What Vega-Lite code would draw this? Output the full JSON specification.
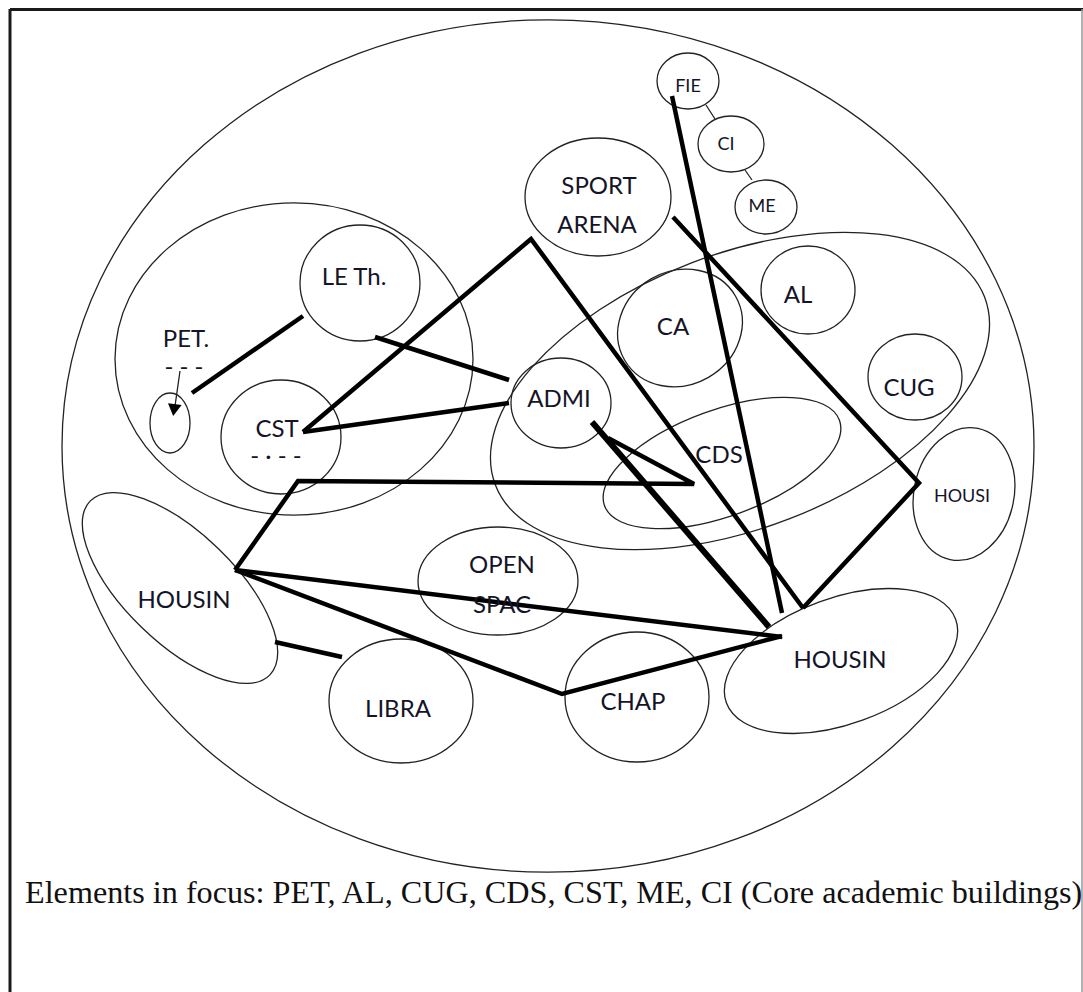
{
  "$schema": "https://vega.github.io/schema/vega-lite/v6.json",
  "width": 1083,
  "height": 992,
  "autosize": {"type": "none"},
  "padding": 0,
  "background": "white",
  "config": {"view": {"stroke": null}},
  "datasets": {
    "ellipses": [
      {"name": "Campus", "x": 548, "y": 446, "rx": 486, "ry": 426, "tilt": 0},
      {"name": "West cluster", "x": 294, "y": 359, "rx": 179, "ry": 156, "tilt": 0},
      {"name": "East cluster", "x": 740, "y": 391, "rx": 262, "ry": 137, "tilt": -21},
      {"name": "CDS zone", "x": 722, "y": 463, "rx": 125, "ry": 53, "tilt": -20},
      {"name": "LE Th.", "x": 360, "y": 283, "rx": 60, "ry": 58, "tilt": 0},
      {"name": "PET", "x": 170, "y": 423, "rx": 20, "ry": 30, "tilt": 0},
      {"name": "CST", "x": 281, "y": 437, "rx": 60, "ry": 57, "tilt": 0},
      {"name": "ADMI", "x": 561, "y": 403, "rx": 50, "ry": 45, "tilt": 0},
      {"name": "CA", "x": 680, "y": 328, "rx": 64, "ry": 57, "tilt": -30},
      {"name": "AL", "x": 808, "y": 290, "rx": 47, "ry": 44, "tilt": 0},
      {"name": "CUG", "x": 915, "y": 377, "rx": 47, "ry": 43, "tilt": 0},
      {"name": "SPORT ARENA", "x": 598, "y": 197, "rx": 73, "ry": 59, "tilt": 0},
      {"name": "FIE", "x": 688, "y": 81, "rx": 31, "ry": 28, "tilt": 0},
      {"name": "CI", "x": 731, "y": 144, "rx": 33, "ry": 28, "tilt": 0},
      {"name": "ME", "x": 766, "y": 207, "rx": 31, "ry": 27, "tilt": 0},
      {"name": "HOUSI", "x": 964, "y": 494, "rx": 50, "ry": 67, "tilt": 12},
      {"name": "HOUSIN W", "x": 180, "y": 588, "rx": 125, "ry": 55, "tilt": 44},
      {"name": "OPEN SPAC", "x": 498, "y": 581, "rx": 80, "ry": 54, "tilt": 0},
      {"name": "LIBRA", "x": 401, "y": 701, "rx": 72, "ry": 62, "tilt": 0},
      {"name": "CHAP", "x": 637, "y": 697, "rx": 72, "ry": 65, "tilt": 0},
      {"name": "HOUSIN E", "x": 841, "y": 661, "rx": 122, "ry": 63, "tilt": -20}
    ],
    "paths": [
      {"path": "PET-LE", "seq": 1, "x": 192, "y": 393},
      {"path": "PET-LE", "seq": 2, "x": 303, "y": 316},
      {"path": "LE-ADMI", "seq": 1, "x": 375, "y": 337},
      {"path": "LE-ADMI", "seq": 2, "x": 509, "y": 380},
      {"path": "CST-ADMI", "seq": 1, "x": 303, "y": 432},
      {"path": "CST-ADMI", "seq": 2, "x": 509, "y": 403},
      {"path": "CST-HOUSIN", "seq": 1, "x": 303, "y": 432},
      {"path": "CST-HOUSIN", "seq": 2, "x": 531, "y": 239},
      {"path": "CST-HOUSIN", "seq": 3, "x": 803, "y": 608},
      {"path": "FIE-HOUSIN", "seq": 1, "x": 672, "y": 96},
      {"path": "FIE-HOUSIN", "seq": 2, "x": 782, "y": 613},
      {"path": "SPORT-HOUSI", "seq": 1, "x": 673, "y": 217},
      {"path": "SPORT-HOUSI", "seq": 2, "x": 919, "y": 483},
      {"path": "SPORT-HOUSI", "seq": 3, "x": 803, "y": 608},
      {"path": "ADMI-CDS", "seq": 1, "x": 608, "y": 438},
      {"path": "ADMI-CDS", "seq": 2, "x": 694, "y": 484},
      {"path": "ADMI-CDS", "seq": 3, "x": 298, "y": 481},
      {"path": "ADMI-CDS", "seq": 4, "x": 235, "y": 570},
      {"path": "HOUSIN-HOUSIN", "seq": 1, "x": 235, "y": 570},
      {"path": "HOUSIN-HOUSIN", "seq": 2, "x": 782, "y": 637},
      {"path": "HOUSIN-CHAP", "seq": 1, "x": 235, "y": 570},
      {"path": "HOUSIN-CHAP", "seq": 2, "x": 562, "y": 694},
      {"path": "HOUSIN-CHAP", "seq": 3, "x": 782, "y": 636},
      {"path": "HOUSIN-LIBRA", "seq": 1, "x": 275, "y": 642},
      {"path": "HOUSIN-LIBRA", "seq": 2, "x": 342, "y": 657}
    ],
    "heavy": [
      {"path": "ADMI-HOUSIN", "seq": 1, "x": 592, "y": 422},
      {"path": "ADMI-HOUSIN", "seq": 2, "x": 769, "y": 627}
    ],
    "thin": [
      {"link": "FIE-CI", "x": 706, "y": 105, "x2": 715, "y2": 119},
      {"link": "CI-ME", "x": 745, "y": 170, "x2": 752, "y2": 180},
      {"link": "PET arrow", "x": 180, "y": 371, "x2": 175, "y2": 406}
    ],
    "arrowheads": [
      {"link": "PET arrow", "x": 174, "y": 410, "dir": 188}
    ],
    "frame": [
      {"side": "top", "x": 10, "y": 9.5, "x2": 1083, "y2": 9.5},
      {"side": "left", "x": 10, "y": 9, "x2": 10, "y2": 992}
    ],
    "frameRight": [
      {"side": "right", "x": 1082, "y": 9, "x2": 1082, "y2": 992}
    ],
    "labels": [
      {"label": "PET.", "x": 186, "y": 347},
      {"label": "LE Th.", "x": 354, "y": 285},
      {"label": "CST", "x": 277, "y": 437},
      {"label": "ADMI", "x": 559, "y": 407},
      {"label": "CDS", "x": 719, "y": 463},
      {"label": "CA", "x": 673, "y": 335},
      {"label": "AL", "x": 798, "y": 303},
      {"label": "CUG", "x": 909, "y": 396},
      {"label": "SPORT", "x": 599, "y": 194},
      {"label": "ARENA", "x": 597, "y": 233},
      {"label": "HOUSIN", "x": 184, "y": 608},
      {"label": "OPEN", "x": 502, "y": 573},
      {"label": "SPAC", "x": 502, "y": 613},
      {"label": "LIBRA", "x": 398, "y": 717},
      {"label": "CHAP", "x": 633, "y": 710},
      {"label": "HOUSIN", "x": 840, "y": 668},
      {"label": "- - -", "x": 184, "y": 375},
      {"label": "- · - -", "x": 276, "y": 464}
    ],
    "smallLabels": [
      {"label": "HOUSI", "x": 962, "y": 502},
      {"label": "ME", "x": 762, "y": 212},
      {"label": "CI", "x": 726, "y": 150},
      {"label": "FIE", "x": 688, "y": 92}
    ],
    "caption": [
      {"text": "Elements in focus: PET, AL, CUG, CDS, CST, ME, CI (Core academic buildings)", "x": 25, "y": 903}
    ]
  },
  "encoding": {
    "x": {"field": "x", "type": "quantitative", "axis": null, "scale": {"domain": [0, 1083], "nice": false, "zero": false}},
    "y": {"field": "y", "type": "quantitative", "axis": null, "scale": {"domain": [0, 992], "nice": false, "zero": false, "reverse": true}}
  },
  "layer": [
    {
      "data": {"name": "frame"},
      "mark": {"type": "rule", "stroke": "#1a1a1a", "strokeWidth": 3},
      "encoding": {"x2": {"field": "x2"}, "y2": {"field": "y2"}}
    },
    {
      "data": {"name": "frameRight"},
      "mark": {"type": "rule", "stroke": "#9a9a9a", "strokeWidth": 1.5},
      "encoding": {"x2": {"field": "x2"}, "y2": {"field": "y2"}}
    },
    {
      "data": {"name": "ellipses"},
      "mark": {"type": "point", "filled": false, "stroke": "#222222", "strokeWidth": 1.3, "opacity": 1, "fill": null},
      "encoding": {
        "shape": {
          "field": "name", "type": "nominal", "legend": null,
          "scale": {
            "domain": ["Campus", "West cluster", "East cluster", "CDS zone", "LE Th.", "PET", "CST", "ADMI", "CA", "AL", "CUG", "SPORT ARENA", "FIE", "CI", "ME", "HOUSI", "HOUSIN W", "OPEN SPAC", "LIBRA", "CHAP", "HOUSIN E"],
            "range": [
              "M-1,0C-1,-0.4844 -0.5523,-0.877 0,-0.877C0.5523,-0.877 1,-0.4844 1,0C1,0.4844 0.5523,0.877 0,0.877C-0.5523,0.877 -1,0.4844 -1,0Z",
              "M-1,0C-1,-0.4816 -0.5523,-0.872 0,-0.872C0.5523,-0.872 1,-0.4816 1,0C1,0.4816 0.5523,0.872 0,0.872C-0.5523,0.872 -1,0.4816 -1,0Z",
              "M-1,0C-1,-0.2888 -0.5523,-0.523 0,-0.523C0.5523,-0.523 1,-0.2888 1,0C1,0.2888 0.5523,0.523 0,0.523C-0.5523,0.523 -1,0.2888 -1,0Z",
              "M-1,0C-1,-0.2342 -0.5523,-0.424 0,-0.424C0.5523,-0.424 1,-0.2342 1,0C1,0.2342 0.5523,0.424 0,0.424C-0.5523,0.424 -1,0.2342 -1,0Z",
              "M-1,0C-1,-0.5341 -0.5523,-0.967 0,-0.967C0.5523,-0.967 1,-0.5341 1,0C1,0.5341 0.5523,0.967 0,0.967C-0.5523,0.967 -1,0.5341 -1,0Z",
              "M-1,0C-1,-0.8285 -0.5523,-1.5 0,-1.5C0.5523,-1.5 1,-0.8285 1,0C1,0.8285 0.5523,1.5 0,1.5C-0.5523,1.5 -1,0.8285 -1,0Z",
              "M-1,0C-1,-0.5247 -0.5523,-0.95 0,-0.95C0.5523,-0.95 1,-0.5247 1,0C1,0.5247 0.5523,0.95 0,0.95C-0.5523,0.95 -1,0.5247 -1,0Z",
              "M-1,0C-1,-0.4971 -0.5523,-0.9 0,-0.9C0.5523,-0.9 1,-0.4971 1,0C1,0.4971 0.5523,0.9 0,0.9C-0.5523,0.9 -1,0.4971 -1,0Z",
              "M-1,0C-1,-0.4915 -0.5523,-0.89 0,-0.89C0.5523,-0.89 1,-0.4915 1,0C1,0.4915 0.5523,0.89 0,0.89C-0.5523,0.89 -1,0.4915 -1,0Z",
              "M-1,0C-1,-0.5170 -0.5523,-0.936 0,-0.936C0.5523,-0.936 1,-0.5170 1,0C1,0.5170 0.5523,0.936 0,0.936C-0.5523,0.936 -1,0.5170 -1,0Z",
              "M-1,0C-1,-0.5053 -0.5523,-0.915 0,-0.915C0.5523,-0.915 1,-0.5053 1,0C1,0.5053 0.5523,0.915 0,0.915C-0.5523,0.915 -1,0.5053 -1,0Z",
              "M-1,0C-1,-0.4463 -0.5523,-0.808 0,-0.808C0.5523,-0.808 1,-0.4463 1,0C1,0.4463 0.5523,0.808 0,0.808C-0.5523,0.808 -1,0.4463 -1,0Z",
              "M-1,0C-1,-0.4987 -0.5523,-0.903 0,-0.903C0.5523,-0.903 1,-0.4987 1,0C1,0.4987 0.5523,0.903 0,0.903C-0.5523,0.903 -1,0.4987 -1,0Z",
              "M-1,0C-1,-0.4684 -0.5523,-0.848 0,-0.848C0.5523,-0.848 1,-0.4684 1,0C1,0.4684 0.5523,0.848 0,0.848C-0.5523,0.848 -1,0.4684 -1,0Z",
              "M-1,0C-1,-0.4810 -0.5523,-0.871 0,-0.871C0.5523,-0.871 1,-0.4810 1,0C1,0.4810 0.5523,0.871 0,0.871C-0.5523,0.871 -1,0.4810 -1,0Z",
              "M-1,0C-1,-0.7401 -0.5523,-1.34 0,-1.34C0.5523,-1.34 1,-0.7401 1,0C1,0.7401 0.5523,1.34 0,1.34C-0.5523,1.34 -1,0.7401 -1,0Z",
              "M-1,0C-1,-0.2430 -0.5523,-0.44 0,-0.44C0.5523,-0.44 1,-0.2430 1,0C1,0.2430 0.5523,0.44 0,0.44C-0.5523,0.44 -1,0.2430 -1,0Z",
              "M-1,0C-1,-0.3728 -0.5523,-0.675 0,-0.675C0.5523,-0.675 1,-0.3728 1,0C1,0.3728 0.5523,0.675 0,0.675C-0.5523,0.675 -1,0.3728 -1,0Z",
              "M-1,0C-1,-0.4755 -0.5523,-0.861 0,-0.861C0.5523,-0.861 1,-0.4755 1,0C1,0.4755 0.5523,0.861 0,0.861C-0.5523,0.861 -1,0.4755 -1,0Z",
              "M-1,0C-1,-0.4987 -0.5523,-0.903 0,-0.903C0.5523,-0.903 1,-0.4987 1,0C1,0.4987 0.5523,0.903 0,0.903C-0.5523,0.903 -1,0.4987 -1,0Z",
              "M-1,0C-1,-0.2850 -0.5523,-0.516 0,-0.516C0.5523,-0.516 1,-0.2850 1,0C1,0.2850 0.5523,0.516 0,0.516C-0.5523,0.516 -1,0.2850 -1,0Z"
            ]
          }
        },
        "size": {"field": "rx", "type": "quantitative", "legend": null, "scale": {"type": "pow", "exponent": 2, "domain": [0, 500], "range": [0, 1000000], "zero": true}},
        "angle": {"field": "tilt", "type": "quantitative", "scale": null}
      }
    },
    {
      "data": {"name": "thin"},
      "mark": {"type": "rule", "stroke": "#222222", "strokeWidth": 1.3},
      "encoding": {"x2": {"field": "x2"}, "y2": {"field": "y2"}}
    },
    {
      "data": {"name": "arrowheads"},
      "mark": {"type": "point", "shape": "triangle-up", "filled": true, "fill": "#000000", "opacity": 1, "size": 190},
      "encoding": {"angle": {"field": "dir", "type": "quantitative", "scale": null}}
    },
    {
      "data": {"name": "paths"},
      "mark": {"type": "line", "stroke": "#000000", "strokeWidth": 4.5, "strokeJoin": "miter", "strokeCap": "butt"},
      "encoding": {"detail": {"field": "path"}, "order": {"field": "seq", "type": "quantitative"}}
    },
    {
      "data": {"name": "heavy"},
      "mark": {"type": "line", "stroke": "#000000", "strokeWidth": 6, "strokeCap": "butt"},
      "encoding": {"detail": {"field": "path"}, "order": {"field": "seq", "type": "quantitative"}}
    },
    {
      "data": {"name": "labels"},
      "mark": {"type": "text", "font": "Lato", "fontSize": 24, "align": "center", "baseline": "alphabetic", "fill": "#141428"},
      "encoding": {"text": {"field": "label"}}
    },
    {
      "data": {"name": "smallLabels"},
      "mark": {"type": "text", "font": "Lato", "fontSize": 18, "align": "center", "baseline": "alphabetic", "fill": "#141428"},
      "encoding": {"text": {"field": "label"}}
    },
    {
      "data": {"name": "caption"},
      "mark": {"type": "text", "font": "Liberation Serif", "fontSize": 32.2, "align": "left", "baseline": "alphabetic", "fill": "#111111"},
      "encoding": {"text": {"field": "text"}}
    }
  ]
}
